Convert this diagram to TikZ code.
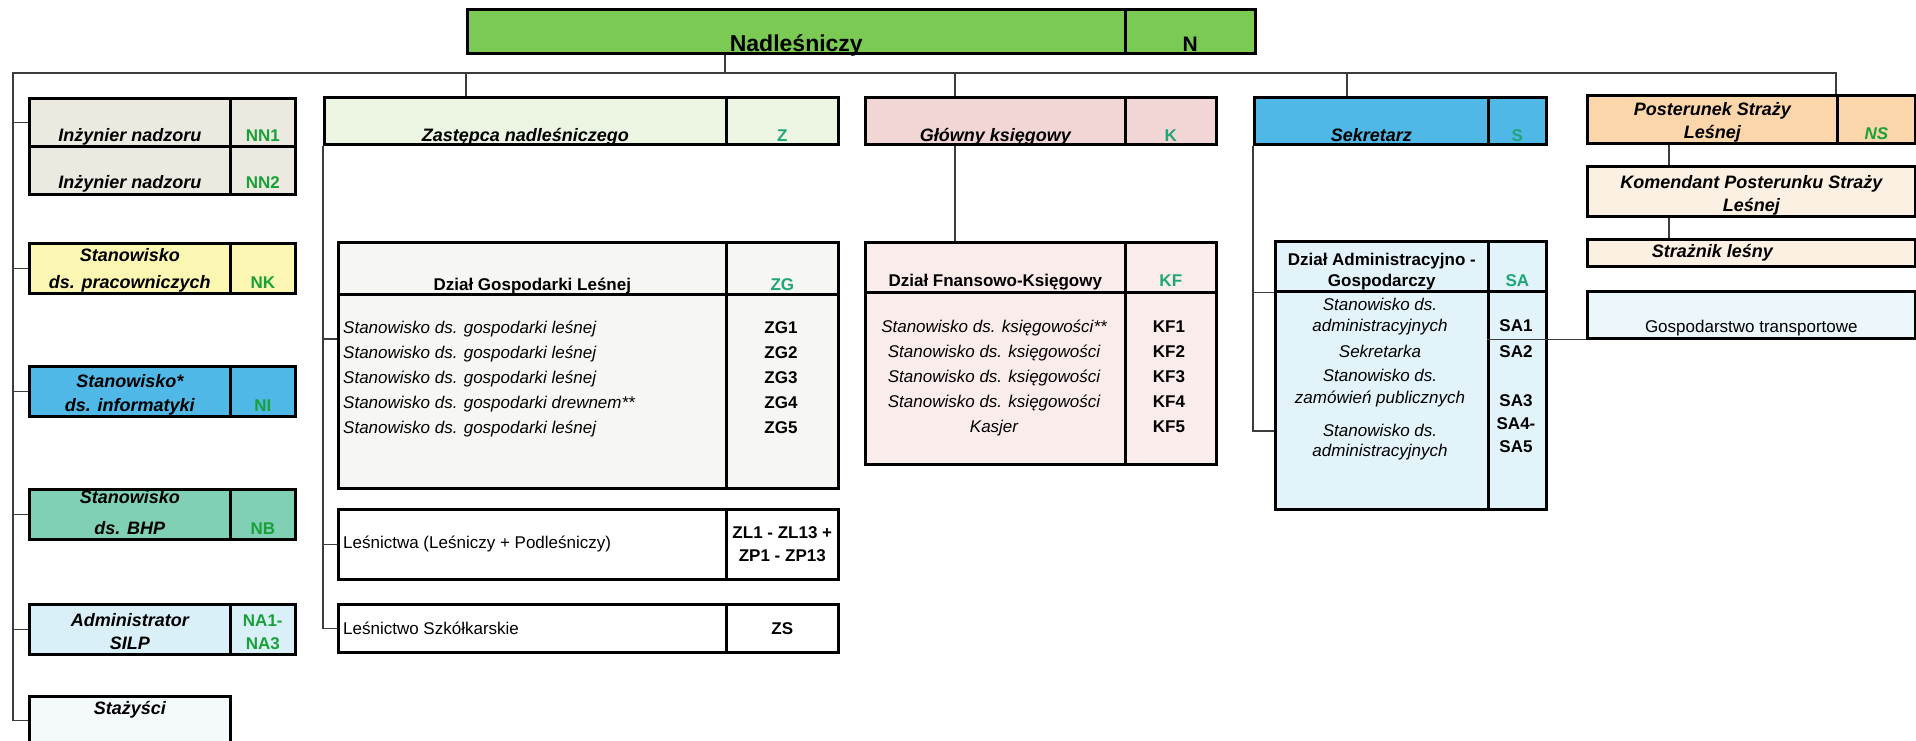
\documentclass[tikz,border=0pt]{standalone}
\usepackage{fontspec}
\setmainfont{Liberation Sans}
\usetikzlibrary{positioning}

\definecolor{nadgreen}{RGB}{122,202,84}
\definecolor{nngray}{RGB}{236,234,224}
\definecolor{zlight}{RGB}{235,245,225}
\definecolor{kpink}{RGB}{242,214,214}
\definecolor{sblue}{RGB}{80,184,230}
\definecolor{nspeach}{RGB}{250,214,170}
\definecolor{nscream}{RGB}{252,240,226}
\definecolor{nkyellow}{RGB}{251,246,178}
\definecolor{nbteal}{RGB}{128,208,182}
\definecolor{nacyan}{RGB}{218,240,248}
\definecolor{stwhite}{RGB}{244,249,252}
\definecolor{zgwhite}{RGB}{246,247,242}
\definecolor{kfpink}{RGB}{251,236,236}
\definecolor{sacyan}{RGB}{226,244,250}
\definecolor{codegreen}{RGB}{26,160,56}
\definecolor{codeteal}{RGB}{30,165,120}
\definecolor{linegray}{RGB}{60,60,60}

\newcommand{\fsz}{\fontsize{17}{24}\selectfont}
\newcommand{\fst}{\fontsize{18}{23}\selectfont}

\tikzset{
  cell/.style={draw=black,line width=2.6pt,inner sep=0pt,anchor=north west},
  conn/.style={draw=linegray,line width=1.3pt},
  tit/.style={font=\fst\bfseries\itshape,align=center,inner sep=0pt},
  head/.style={font=\fsz\bfseries,align=center,inner sep=0pt},
  staff/.style={font=\fsz\itshape,inner sep=0pt},
  plain/.style={font=\fsz,inner sep=0pt},
  code/.style={font=\fsz\bfseries,text=codegreen,align=center,inner sep=0pt},
  codet/.style={font=\fsz\bfseries,text=codeteal,align=center,inner sep=0pt},
  codeb/.style={font=\fsz\bfseries,align=center,inner sep=0pt}
}

\begin{document}
\begin{tikzpicture}[x=1pt,y=-1pt]
\useasboundingbox (0,0) rectangle (1916,740);

% Nadlesniczy
\node at (466,8)[cell,fill=nadgreen,minimum width=658pt,minimum height=44pt](nadl){};
\node at (1124,8)[cell,fill=nadgreen,minimum width=130pt,minimum height=44pt](nadl-c){};
\node[above=3pt of nadl.south,anchor=base,font=\fontsize{23}{26}\selectfont\bfseries,inner sep=0pt](nadl-t){Nadleśniczy};
\node[above=3pt of nadl-c.south,anchor=base,font=\fontsize{21}{24}\selectfont\bfseries,inner sep=0pt](nadl-k){N};

% pierwszy poziom
\node at (323,96)[cell,fill=zlight,minimum width=402pt,minimum height=47pt](zast){};
\node at (725,96)[cell,fill=zlight,minimum width=112pt,minimum height=47pt](zast-c){};
\node[tit,above=4.5pt of zast.south,anchor=base](zast-t){Zastępca nadleśniczego};
\node[codet,above=4.5pt of zast-c.south,anchor=base](zast-k){Z};

\node at (864,96)[cell,fill=kpink,minimum width=260pt,minimum height=47pt](glow){};
\node at (1124,96)[cell,fill=kpink,minimum width=91pt,minimum height=47pt](glow-c){};
\node[tit,above=4.5pt of glow.south,anchor=base](glow-t){Główny księgowy};
\node[codet,above=4.5pt of glow-c.south,anchor=base](glow-k){K};

\node at (1253,96)[cell,fill=sblue,minimum width=234pt,minimum height=47pt](sek){};
\node at (1487,96)[cell,fill=sblue,minimum width=58pt,minimum height=47pt](sek-c){};
\node[tit,above=4.5pt of sek.south,anchor=base](sek-t){Sekretarz};
\node[codet,above=4.5pt of sek-c.south,anchor=base](sek-k){S};

\node at (1586,94)[cell,fill=nspeach,minimum width=250pt,minimum height=48pt](pos){};
\node at (1836,94)[cell,fill=nspeach,minimum width=78pt,minimum height=48pt](pos-c){};
\node[tit,above=2pt of pos.south,anchor=south](pos-t){Posterunek Straży\\Leśnej};
\node[code,font=\fsz\bfseries\itshape,above=5.5pt of pos-c.south,anchor=base](pos-k){NS};

\node at (1586,165)[cell,fill=nscream,minimum width=328pt,minimum height=50pt](kom){};
\node[tit,above=2.5pt of kom.south,anchor=south](kom-t){Komendant Posterunku Straży\\Leśnej};
\node at (1586,238)[cell,fill=nscream,minimum width=328pt,minimum height=27pt](straz){};
\node[tit] at (straz.center -| pos.center)(straz-t){Strażnik leśny};
\node at (1586,290)[cell,fill=sacyan!70!white,minimum width=328pt,minimum height=47pt](gosp){};
\node[plain,above=7pt of gosp.south,anchor=base](gosp-t){Gospodarstwo transportowe};

% stanowiska samodzielne
\node at (28,97)[cell,fill=nngray,minimum width=201pt,minimum height=48pt](nn1){};
\node at (229,97)[cell,fill=nngray,minimum width=65pt,minimum height=48pt](nn1-c){};
\node at (28,145)[cell,fill=nngray,minimum width=201pt,minimum height=48pt](nn2){};
\node at (229,145)[cell,fill=nngray,minimum width=65pt,minimum height=48pt](nn2-c){};
\node[tit,above=6pt of nn1.south,anchor=base](nn1-t){Inżynier nadzoru};
\node[code,above=6pt of nn1-c.south,anchor=base](nn1-k){NN1};
\node[tit,above=7pt of nn2.south,anchor=base](nn2-t){Inżynier nadzoru};
\node[code,above=7pt of nn2-c.south,anchor=base](nn2-k){NN2};

\foreach \nm/\y/\col/\ls/\txt/\cd in {nk/242/nkyellow/27/{Stanowisko\\ds. pracowniczych}/NK,
  ni/365/sblue/24/{Stanowisko*\\ds. informatyki}/NI,
  nb/488/nbteal/31/{Stanowisko\\ds. BHP}/NB,
  na/603/nacyan/23/{Administrator\\SILP}/{NA1-\\NA3}}{
  \node at (28,\y)[cell,fill=\col,minimum width=201pt,minimum height=50pt](\nm){};
  \node at (229,\y)[cell,fill=\col,minimum width=65pt,minimum height=50pt](\nm-c){};
  \node[tit,font=\fontsize{18}{\ls}\selectfont\bfseries\itshape,text depth=4.5pt,above=1.5pt of \nm.south,anchor=south] (\nm-t) {\txt};
  \node[code,font=\fontsize{17}{23}\selectfont\bfseries,above=6pt of \nm-c.south,anchor=south] (\nm-k) {\cd};
}
\node at (28,695)[cell,fill=stwhite,minimum width=201pt,minimum height=48pt](st){};
\node[tit,below=19pt of st.north,anchor=base](st-t){Stażyści};

% Dzial Gospodarki Lesnej
\node at (337,241)[cell,fill=zgwhite,minimum width=388pt,minimum height=52pt](zg){};
\node at (725,241)[cell,fill=zgwhite,minimum width=112pt,minimum height=52pt](zg-c){};
\node at (337,293)[cell,fill=zgwhite,minimum width=388pt,minimum height=194pt](zgb){};
\node at (725,293)[cell,fill=zgwhite,minimum width=112pt,minimum height=194pt](zgb-c){};
\node[head,above=5pt of zg.south,anchor=base](zg-t){Dział Gospodarki Leśnej};
\node[codet,above=5pt of zg-c.south,anchor=base](zg-k){ZG};
\foreach \t [count=\i] in {gospodarki leśnej,gospodarki leśnej,gospodarki leśnej,gospodarki drewnem**,gospodarki leśnej}{
  \node[staff,anchor=base west] (zg\i) at (343,308+25*\i) {Stanowisko ds. \t};
  \node[codeb,anchor=base] (zgk\i) at (781,308+25*\i) {ZG\i};
}

\node at (337,508)[cell,fill=white,minimum width=388pt,minimum height=70pt](zl){};
\node at (725,508)[cell,fill=white,minimum width=112pt,minimum height=70pt](zl-c){};
\node[plain,anchor=west] at ([xshift=6pt]zl.west)(zl-t){Leśnictwa (Leśniczy + Podleśniczy)};
\node[codeb,font=\fontsize{17}{23}\selectfont\bfseries] at (zl-c.center)(zl-k){ZL1 - ZL13 +\\ZP1 - ZP13};
\node at (337,603)[cell,fill=white,minimum width=388pt,minimum height=48pt](zs){};
\node at (725,603)[cell,fill=white,minimum width=112pt,minimum height=48pt](zs-c){};
\node[plain,anchor=west] at ([xshift=6pt]zs.west)(zs-t){Leśnictwo Szkółkarskie};
\node[codeb] at (zs-c.center)(zs-k){ZS};

% Dzial Finansowo-Ksiegowy
\node at (864,241)[cell,fill=kfpink,minimum width=260pt,minimum height=50pt](kf){};
\node at (1124,241)[cell,fill=kfpink,minimum width=91pt,minimum height=50pt](kf-c){};
\node at (864,291)[cell,fill=kfpink,minimum width=260pt,minimum height=172pt](kfb){};
\node at (1124,291)[cell,fill=kfpink,minimum width=91pt,minimum height=172pt](kfb-c){};
\node[head,above=7pt of kf.south,anchor=base](kf-t){Dział Fnansowo-Księgowy};
\node[codet,above=7pt of kf-c.south,anchor=base](kf-k){KF};
\foreach \t [count=\i] in {Stanowisko ds. księgowości**,Stanowisko ds. księgowości,Stanowisko ds. księgowości,Stanowisko ds. księgowości,Kasjer}{
  \node[staff,anchor=base] (kf\i) at (994,307+25*\i) {\t};
  \node[codeb,anchor=base] (kfk\i) at (1169,307+25*\i) {KF\i};
}

% Dzial Administracyjno-Gospodarczy
\node at (1274,240)[cell,fill=sacyan,minimum width=213pt,minimum height=50pt](sa){};
\node at (1487,240)[cell,fill=sacyan,minimum width=58pt,minimum height=50pt](sa-c){};
\node at (1274,290)[cell,fill=sacyan,minimum width=213pt,minimum height=218pt](sab){};
\node at (1487,290)[cell,fill=sacyan,minimum width=58pt,minimum height=218pt](sab-c){};
\node[head,font=\fontsize{17}{21}\selectfont\bfseries,above=2.5pt of sa.south,anchor=south](sa-t){Dział Administracyjno -\\Gospodarczy};
\node[codet,above=6pt of sa-c.south,anchor=base](sa-k){SA};
\foreach \t/\yy [count=\i] in {Stanowisko ds./310,administracyjnych/331,Sekretarka/357,Stanowisko ds./381,zamówień publicznych/403,Stanowisko ds./436,administracyjnych/456}{
  \node[staff,anchor=base] (sa\i) at (1380,\yy) {\t};
}
\foreach \t/\yy [count=\i] in {SA1/331,SA2/357,SA3/406,SA4-/429,SA5/452}{
  \node[codeb,anchor=base] (sak\i) at (1516,\yy) {\t};
}

% polaczenia
\coordinate (busL) at (13,73);
\coordinate (kdrop) at (955,73);
\coordinate (sdrop) at (1347,73);
\coordinate (pdrop) at (1669,0);
\coordinate (zgbr) at (337,339);
\coordinate (sabr) at (1274,431);
\draw[conn] (nadl.south -| zast-c.west) -- (zast-c.west |- busL);
\draw[conn] (pos-c.north west) -- (pos-c.north west |- busL) -- (busL) -- (busL |- st.west) -- (st.west);
\foreach \n in {nn1,nk,ni,nb,na}
  \draw[conn] (\n.west -| busL) -- (\n.west);
\draw[conn] (nadl.west |- busL) -- (nadl.west |- zast.north);
\draw[conn] (kdrop) -- (kdrop |- glow.north);
\draw[conn] (kdrop |- glow.south) -- (kdrop |- kf.north);
\draw[conn] (sdrop) -- (sdrop |- sek.north);
\draw[conn] (zast.south west) |- (zs.west);
\draw[conn] (zgbr -| zast.west) -- (zgbr);
\draw[conn] (zl.west -| zast.west) -- (zl.west);
\draw[conn] (sek.south west) |- (sabr);
\draw[conn] (sa.south west -| sek.west) -- (sa.south west);
\draw[conn] (pdrop |- pos.south) -- (pdrop |- kom.north);
\draw[conn] (pdrop |- kom.south) -- (pdrop |- straz.north);
\draw[conn] (sab-c.west |- gosp.south) -- (gosp.south west);
\end{tikzpicture}
\end{document}
